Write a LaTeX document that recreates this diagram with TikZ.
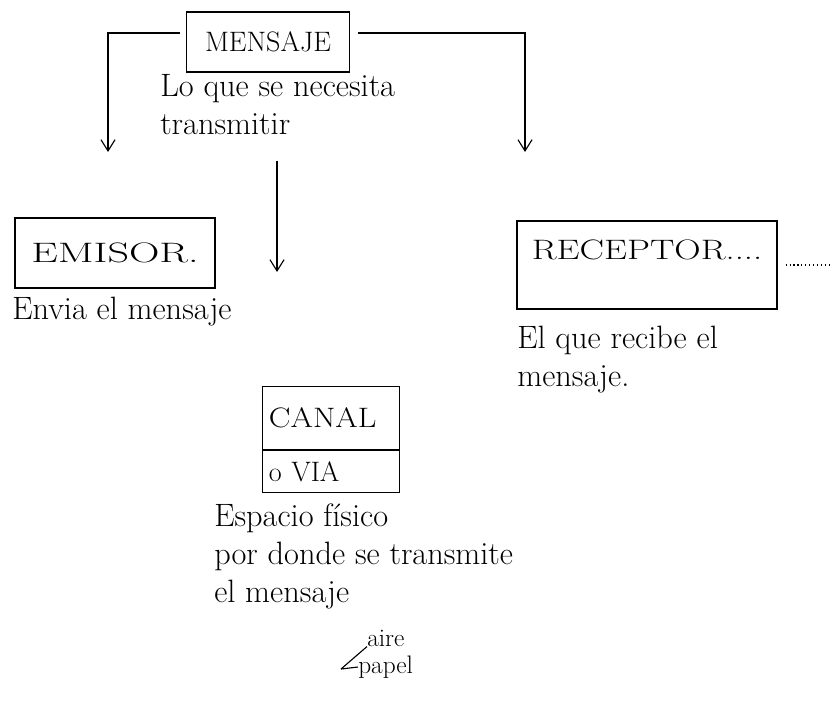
\documentclass[tikz,border=0pt]{standalone}
\usetikzlibrary{arrows.meta}
\tikzset{
    box/.style={draw, line width=0.8pt, inner sep=6pt, align=center,
                font=\fontsize{20}{24}\selectfont},
    flow/.style={-{Straight Barb[length=8pt,width=10pt]}, line width=0.8pt},
    note/.style={font=\fontsize{23}{27}\selectfont, align=left, inner sep=0pt},
    small note/.style={note, font=\fontsize{18}{22}\selectfont},
}
\newcommand{\widetext}[2]{\scalebox{#1}[1]{#2}}
\begin{document}
\begin{tikzpicture}[x=0.025cm, y=-0.025cm]
    \path[use as bounding box] (0,0) rectangle (839,721);

    % top: the message
    \node[box, minimum width=4.08cm, minimum height=1.5cm] (mensaje) at (268,42) {MENSAJE};
    \node[note, anchor=north west] (mensajetxt) at (160,74) {Lo que se necesita\\transmitir};

    % sender and receiver
    \node[box, minimum width=5cm, minimum height=1.75cm] (emisor) at (115,253) {\widetext{1.5}{EMISOR.}};
    \node[note, anchor=west] (emisortxt) at (12,312) {Envia el mensaje};
    \node[box, minimum width=6.5cm, minimum height=2.2cm, text depth=0.75cm] (receptor) at (647,265) {\widetext{1.3}{RECEPTOR....}};
    \node[note, anchor=north west] (receptortxt) at (517,326) {El que recibe el\\mensaje.};
    \coordinate (receptorend) at (832,265);
    \draw[line width=0.8pt, dotted] ([xshift=0.2cm]receptor.east) -- (receptorend);

    % channel
    \node[box, minimum width=3.42cm, minimum height=1.58cm, text width=3.1cm, align=left, inner sep=3pt] (canal) at (331,418) {\widetext{1.15}{CANAL}};
    \node[box, minimum width=3.42cm, minimum height=1.05cm, text width=3.1cm, align=left, inner sep=3pt, anchor=north] (via) at (canal.south) {o VIA};
    \node[note, anchor=north west] (canaltxt) at (214,504) {Espacio físico\\por donde se transmite\\el mensaje};
    \node[small note, anchor=west] (aire) at (367,638) {aire};
    \node[small note, anchor=west] (papel) at (358,667) {papel};
    \coordinate (medios) at (341,669);
    \draw[line width=0.8pt] (medios) -- (aire.south west);
    \draw[line width=0.8pt] (medios) -- (papel.west);

    % arrows out of the message
    \coordinate (emisorin) at (108,152);
    \coordinate (receptorin) at (525,152);
    \coordinate (canalin) at (277,272);
    \draw[flow] ([xshift=-0.15cm,yshift=0.225cm]mensaje.west) -| (emisorin);
    \draw[flow] ([xshift=0.2cm,yshift=0.225cm]mensaje.east) -| (receptorin);
    \draw[flow] (mensaje.south -| canalin) ++(0,88) -- (canalin);

\end{tikzpicture}
\end{document}
